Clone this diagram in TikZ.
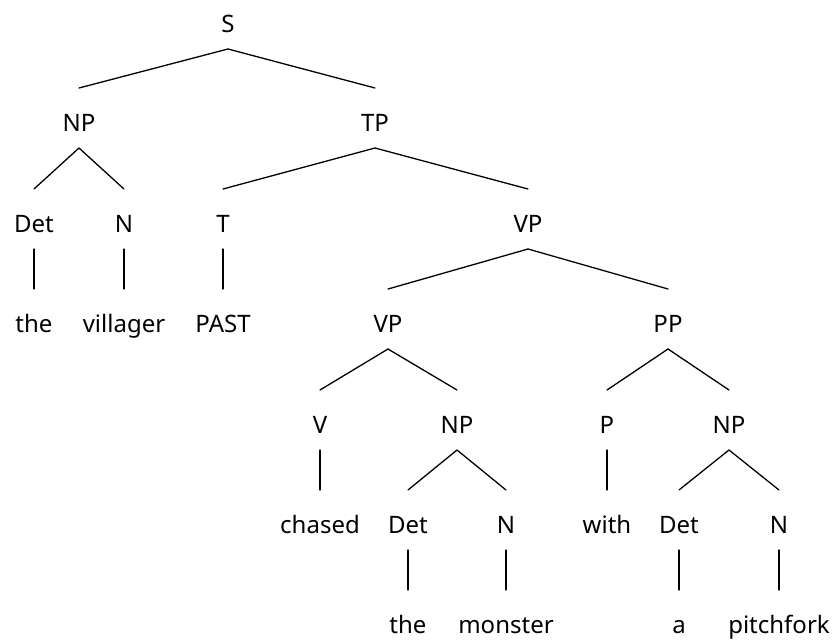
\documentclass[tikz,border=0pt]{standalone}
\usepackage{fontspec}
\setmainfont{Noto Sans}
\begin{document}
\begin{tikzpicture}[x=1pt,y=-1pt,
  lbl/.style={anchor=base,inner sep=0pt,font=\fontsize{24}{28}\selectfont},
  edge/.style={line width=1.3pt,line cap=round}]
\useasboundingbox (0,0) rectangle (838,640);
\newcommand\br[2]{\draw[edge] ([yshift=-17pt]#1.base) -- ([yshift=43pt]#2.base);}
% row baselines: 32,132,232,332,433,533,633
\node[lbl] (S) at (228,32) {S};
\node[lbl] (NP1) at (79,131) {NP};
\node[lbl] (TP) at (375,131) {TP};
\node[lbl] (Det1) at (34,232) {Det};
\node[lbl] (N1) at (124,232) {N};
\node[lbl] (T) at (223,232) {T};
\node[lbl] (VP1) at (528,232) {VP};
\node[lbl] (the1) at (34,332) {the};
\node[lbl] (vill) at (124,332) {villager};
\node[lbl] (past) at (223,332) {PAST};
\node[lbl] (VP2) at (388,332) {VP};
\node[lbl] (PP) at (668,332) {PP};
\node[lbl] (V) at (320,433) {V};
\node[lbl] (NP2) at (457,433) {NP};
\node[lbl] (P) at (607,433) {P};
\node[lbl] (NP3) at (729,433) {NP};
\node[lbl] (chased) at (320,533) {chased};
\node[lbl] (Det2) at (408,533) {Det};
\node[lbl] (N2) at (506,533) {N};
\node[lbl] (with) at (607,533) {with};
\node[lbl] (Det3) at (679,533) {Det};
\node[lbl] (N3) at (779,533) {N};
\node[lbl] (the2) at (408,633) {the};
\node[lbl] (monster) at (506,633) {monster};
\node[lbl] (a) at (679,633) {a};
\node[lbl] (pitch) at (779,633) {pitchfork};
\br{S}{NP1}\br{S}{TP}
\br{NP1}{Det1}\br{NP1}{N1}
\br{TP}{T}\br{TP}{VP1}
\br{Det1}{the1}\br{N1}{vill}\br{T}{past}
\br{VP1}{VP2}\br{VP1}{PP}
\br{VP2}{V}\br{VP2}{NP2}
\br{PP}{P}\br{PP}{NP3}
\br{V}{chased}\br{NP2}{Det2}\br{NP2}{N2}
\br{P}{with}\br{NP3}{Det3}\br{NP3}{N3}
\br{Det2}{the2}\br{N2}{monster}
\br{Det3}{a}\br{N3}{pitch}
\end{tikzpicture}
\end{document}
